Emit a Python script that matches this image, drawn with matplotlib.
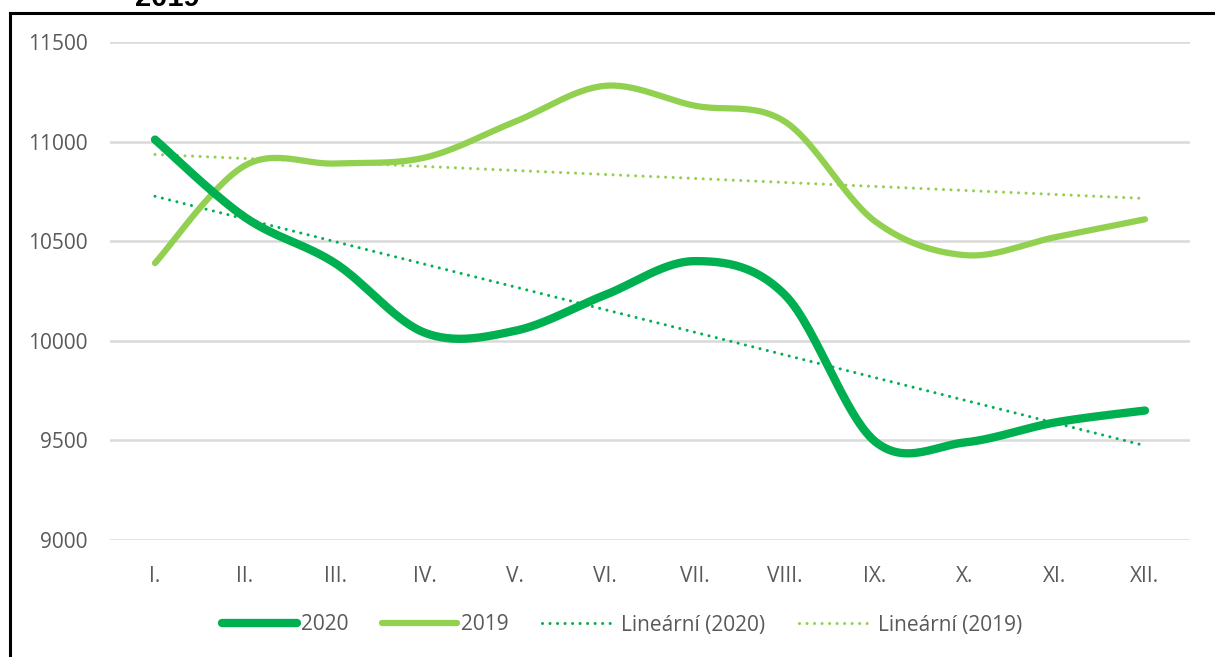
import numpy as np
import matplotlib.pyplot as plt
from matplotlib.lines import Line2D

months = ['I.', 'II.', 'III.', 'IV.', 'V.', 'VI.', 'VII.', 'VIII.', 'IX.', 'X.', 'XI.', 'XII.']
values_2020 = [11010, 10620, 10390, 10040, 10050, 10230, 10400, 10230, 9495, 9490, 9590, 9650]
values_2019 = [10390, 10880, 10890, 10920, 11100, 11280, 11180, 11100, 10600, 10430, 10520, 10610]
y_ticks = [9000, 9500, 10000, 10500, 11000, 11500]

c2020 = '#00B050'
c2019 = '#92D050'
gray = '#595959'


def smooth(y, n=30):
    # Excel-style smoothed line: bezier segments with catmull-rom control points
    y = np.asarray(y, dtype=float)
    x = np.arange(len(y), dtype=float)
    pts = np.column_stack([x, y])
    out = []
    for i in range(len(pts) - 1):
        p0 = pts[i - 1] if i > 0 else pts[i]
        p1 = pts[i]
        p2 = pts[i + 1]
        p3 = pts[i + 2] if i + 2 < len(pts) else pts[i + 1]
        c1 = p1 + (p2 - p0) / 6
        c2 = p2 - (p3 - p1) / 6
        t = np.linspace(0, 1, n)[:, None]
        seg = ((1 - t) ** 3) * p1 + 3 * ((1 - t) ** 2) * t * c1 + 3 * (1 - t) * t ** 2 * c2 + t ** 3 * p2
        out.append(seg if i == 0 else seg[1:])
    seg = np.vstack(out)
    return seg[:, 0], seg[:, 1]


plt.rcParams['font.family'] = ['Open Sans', 'DejaVu Sans']

fig = plt.figure(figsize=(12.15, 6.57), dpi=100)
ax = fig.add_axes([110 / 1215, 1 - 540 / 657, 1080 / 1215, 498 / 657])

x = np.arange(len(months))
dots = (0, (0.01, 2.45))

sx, sy = smooth(values_2020)
ax.plot(sx, sy, color=c2020, lw=6, solid_capstyle='round', label='2020', zorder=4)
sx, sy = smooth(values_2019)
ax.plot(sx, sy, color=c2019, lw=4.5, solid_capstyle='round', label='2019', zorder=3)

k, b = np.polyfit(x, values_2020, 1)
ax.plot(x, k * x + b, color=c2020, lw=2.2, ls=dots, dash_capstyle='round',
        label='Lineární (2020)', zorder=2)
k, b = np.polyfit(x, values_2019, 1)
ax.plot(x, k * x + b, color=c2019, lw=2.2, ls=dots, dash_capstyle='round',
        label='Lineární (2019)', zorder=2)

ax.set_xlim(-0.5, len(months) - 0.5)
ax.set_ylim(9000, 11500)
ax.set_yticks(y_ticks)
ax.set_yticklabels([str(v) for v in y_ticks])
ax.set_xticks(x)
ax.set_xticklabels(months)
ax.tick_params(axis='both', length=0, colors=gray, labelsize=15)
ax.tick_params(axis='x', pad=19)
ax.tick_params(axis='y', pad=16)
ax.grid(axis='y', color='#d9d9d9', lw=1.8)
ax.set_axisbelow(True)
for s in ax.spines.values():
    s.set_visible(False)

leg = fig.legend(loc='center', bbox_to_anchor=(622 / 1215, 1 - 625 / 657), ncol=4,
                 frameon=False, fontsize=15, handlelength=3.6, handletextpad=0.2,
                 columnspacing=1.6, labelcolor=gray)

# clipped title and frame from the source document
fig.text(135 / 1215, 1 - 6 / 657, '2019', fontsize=21, fontweight='bold',
         family='Liberation Sans', ha='left', va='baseline')
fig.add_artist(Line2D([9.5 / 1215, 9.5 / 1215], [0, 1 - 12.5 / 657], color='black', lw=2.2,
                      transform=fig.transFigure, solid_capstyle='projecting'))
fig.add_artist(Line2D([9.5 / 1215, 1.0], [1 - 12.5 / 657, 1 - 12.5 / 657], color='black', lw=2.2,
                      transform=fig.transFigure, solid_capstyle='projecting'))

fig.savefig('out.png', dpi=100)
